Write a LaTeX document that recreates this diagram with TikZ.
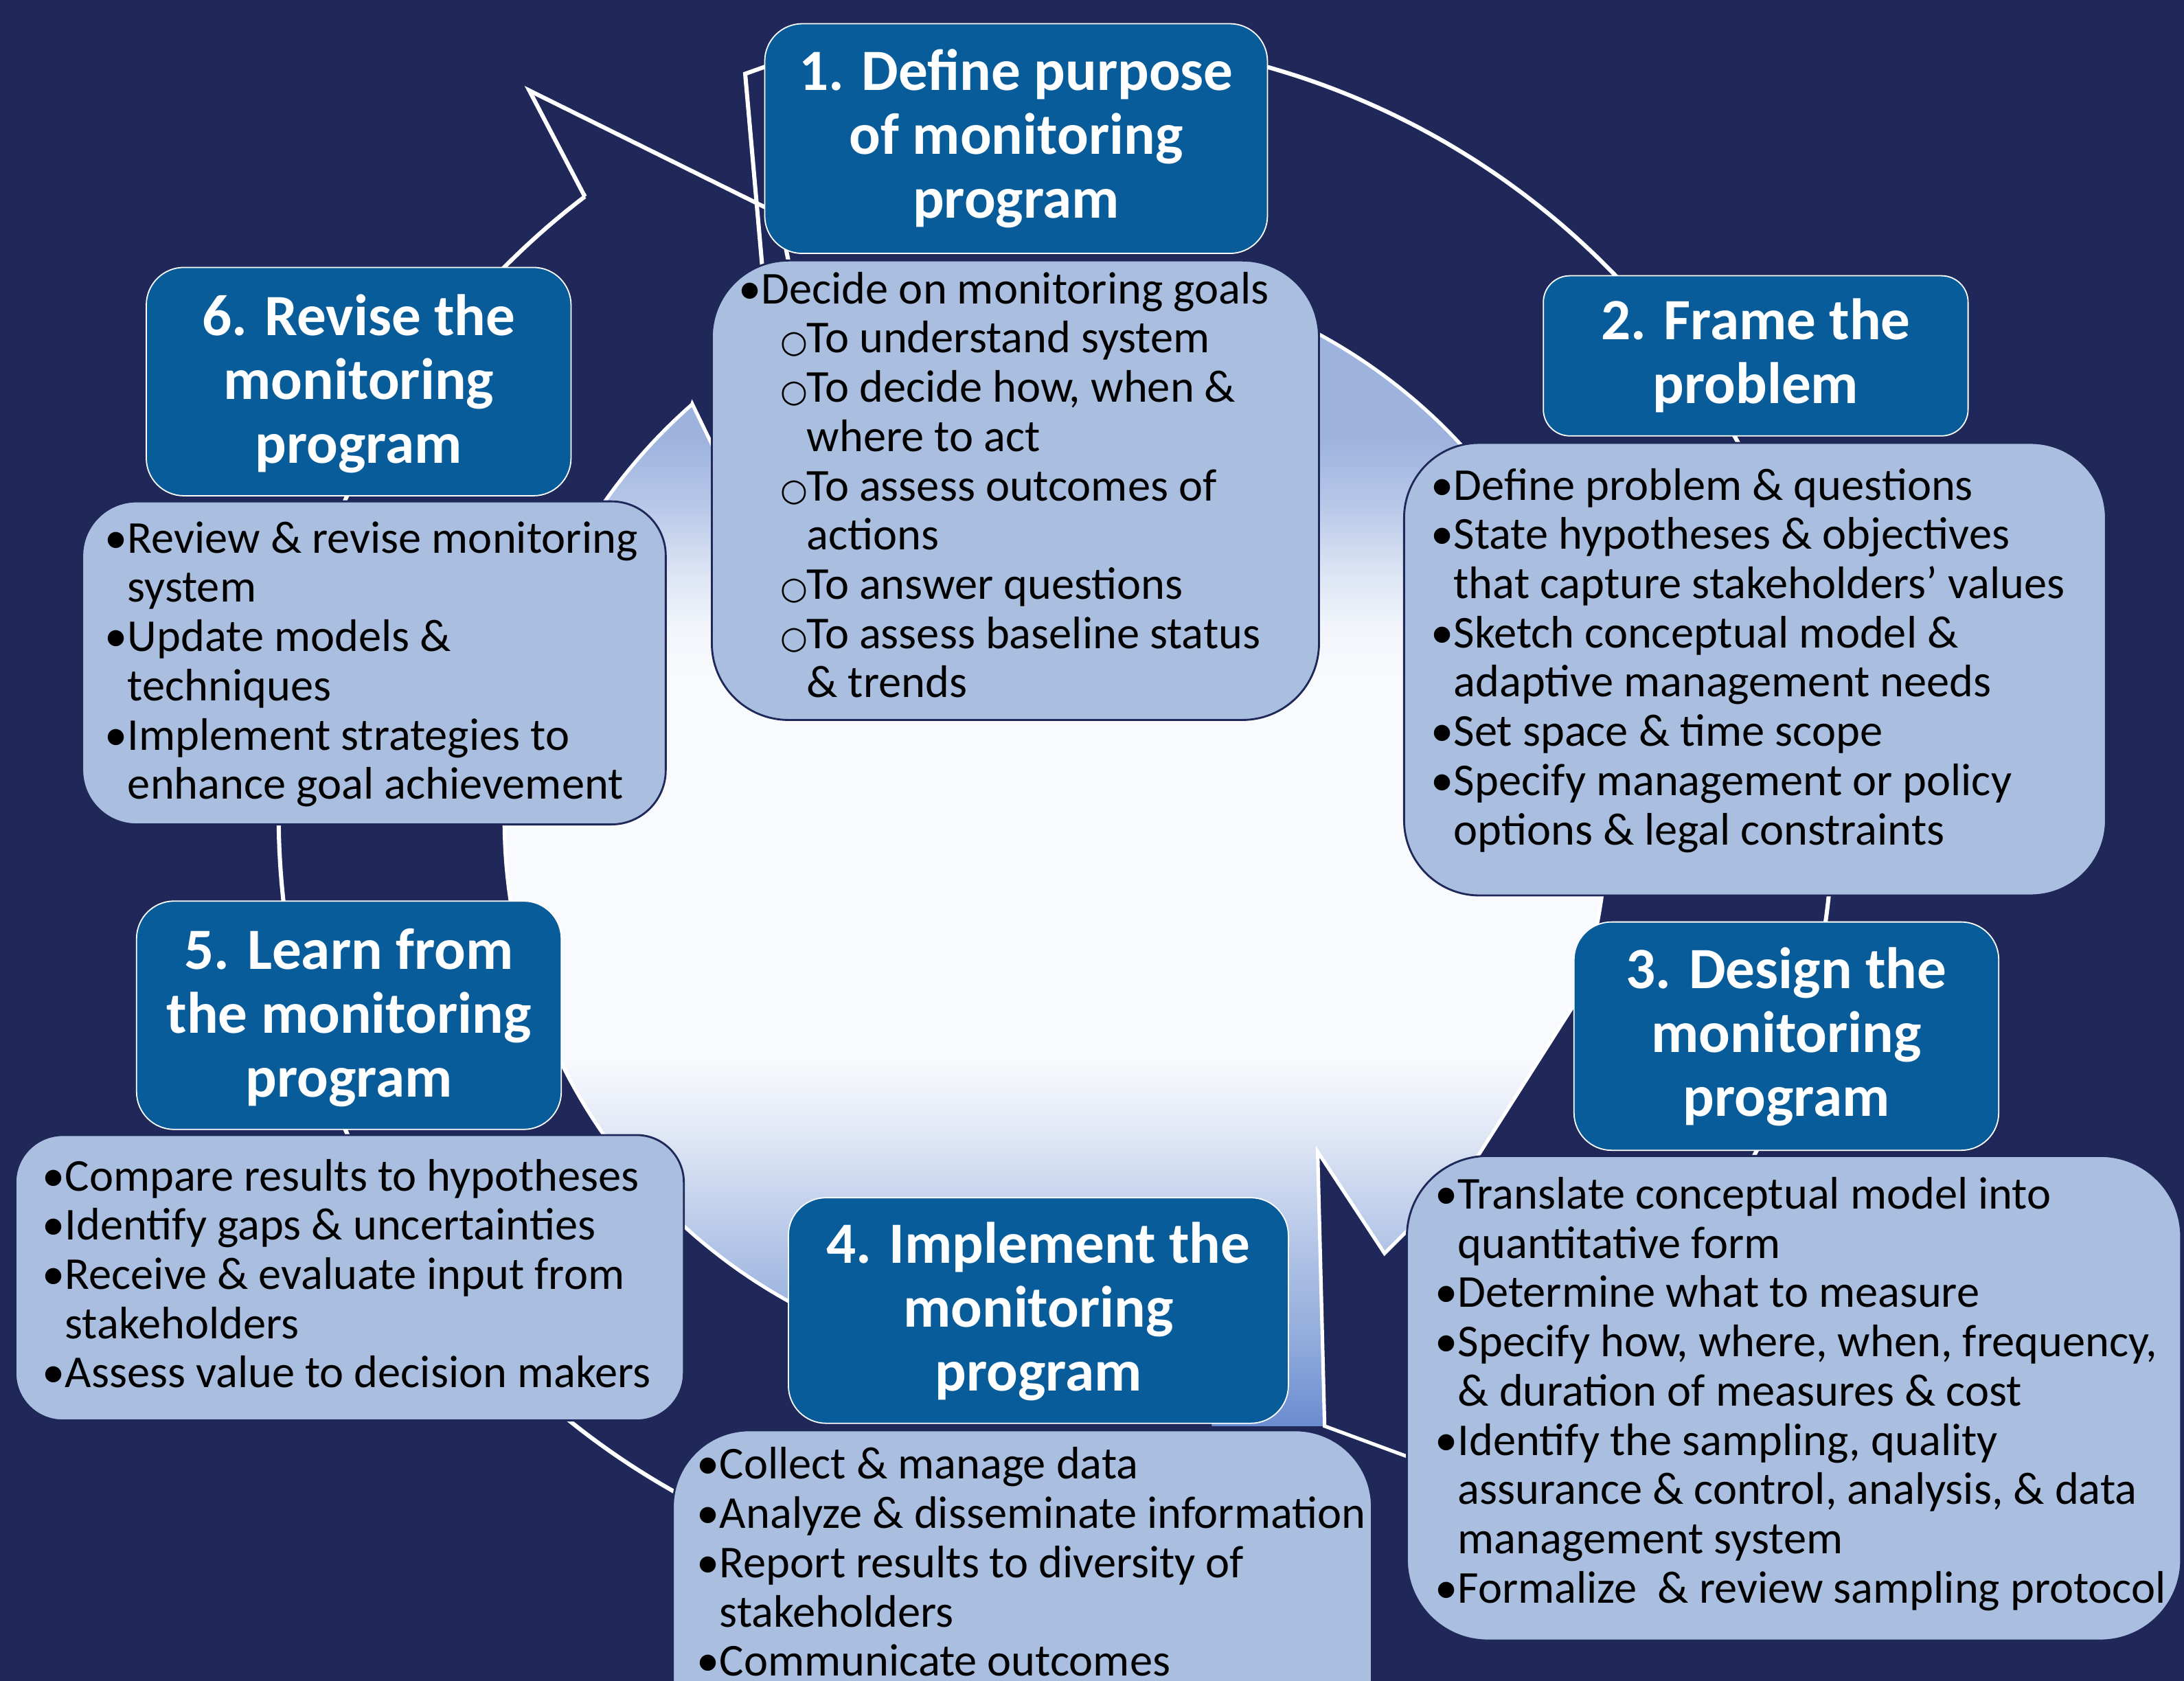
\documentclass[tikz,border=0pt]{standalone}
\usepackage{fontspec}
\setmainfont{Carlito}
\newfontfamily\dejavu{DejaVu Sans}
\usetikzlibrary{calc}
\definecolor{navy}{RGB}{31,40,89}
\definecolor{tblue}{RGB}{9,92,154}
\definecolor{cblue}{RGB}{170,191,223}
\definecolor{g1}{HTML}{9DB3DE}
\definecolor{g2}{HTML}{B5C6E7}
\definecolor{g3}{HTML}{DCE4F4}
\definecolor{g4}{HTML}{F2F5FB}
\definecolor{g5}{HTML}{F9FAFD}
\definecolor{g6}{HTML}{F9FAFD}
\definecolor{g7}{HTML}{E0E7F5}
\definecolor{g8}{HTML}{C3D1EC}
\definecolor{g9}{HTML}{A8BDE3}
\definecolor{g10}{HTML}{93ACDC}
\definecolor{g11}{HTML}{6A8BD0}
\pgfdeclareverticalshading{cgrad}{100bp}{color(0bp)=(g11); color(25bp)=(g11); color(28.96bp)=(g10); color(31.65bp)=(g9); color(34.65bp)=(g8); color(37.65bp)=(g7); color(40.95bp)=(g6); color(57.13bp)=(g5); color(59.53bp)=(g4); color(61.93bp)=(g3); color(64.93bp)=(g2); color(67.63bp)=(g1); color(100bp)=(g1)}
\newcommand{\bul}{•}
\newcommand{\bulc}{\phantom{•}}
\newcommand{\subb}{\hspace*{17.2pt}\makebox[10.6pt][l]{\fontsize{12.8}{12.8}\selectfont\dejavu ○}}
\newcommand{\subc}{\hspace*{27.8pt}}
\begin{document}
\begin{tikzpicture}[x=0.02cm,y=-0.02cm,
  wline/.style={draw=white,line width=1.45pt},
  oline/.style={draw=white,line width=1.7pt},
  tbox/.style={draw=white,line width=0.5pt,fill=tblue,rounded corners=#1,inner sep=0pt,outer sep=0pt},
  cbox/.style={draw=navy,line width=0.8pt,fill=cblue,rounded corners=#1,inner sep=0pt,outer sep=0pt},
  ttext/.style={anchor=base,inner sep=0pt,text=white,font=\fontsize{23.9}{26.08}\selectfont\bfseries},
  ctext/.style={anchor=base west,inner sep=0pt,text=black,font=\fontsize{18.65}{20.13}\selectfont}]
\useasboundingbox (0,0) rectangle (1568,1207);
\fill[navy] (0,0) rectangle (1568,1207);
\begin{scope}
\clip (0,0) rectangle (1568,1207);
% gradient disc
\coordinate (C) at (758,588);
\begin{scope}
\clip (C) circle[radius=396];
\shade[shading=cgrad] (0,192) rectangle (1568,1026);
\end{scope}
\begin{scope}
\clip (870,900) -- (946,827) -- (951,1024) -- (870,1024) -- cycle;
\shade[shading=cgrad] (0,192) rectangle (1568,1026);
\end{scope}
\fill[navy] (497,290) -- (530,358) -- (560,358) -- (560,230) -- (497,250) -- cycle;
\fill[navy] (946,827) -- (994,900) -- (1056,838) -- (1131.7,718.9) -- (1200,700) -- (1200,1040) -- (951,1040) -- cycle;
% white outlines of the gradient arrows
\draw[wline] (530,358) -- (497,290) -- plot[domain=228.75:90,samples=120] ({758+396*cos(\x)},{588+396*sin(\x)});
\draw[wline] plot[domain=-110:19.3,samples=120] ({758+396*cos(\x)},{588+396*sin(\x)}) -- (1056,838) -- (994,900) -- (946,827) -- (951,1024) -- (1008,1045) -- (1060,1064);
% outer outlined circular arrow
\draw[oline] (590,169) -- (380,65) -- (419.9,141.2) -- plot[domain=232.7:100,samples=150] ({758+558*cos(\x)},{585+558*sin(\x)});
\draw[oline] (548,200) -- (535,53) -- (549,48) -- plot[domain=-74.7:30,samples=150] ({758+558*cos(\x)},{585+558*sin(\x)});
\draw[oline] (567,192) -- (560,158);
% content boxes
\node[cbox=1.1cm, minimum width=8.72cm, minimum height=6.6cm] (c1) at (729,352) {};
\node[cbox=1.08cm, minimum width=10.08cm, minimum height=6.5cm] (c2) at (1260,480.5) {};
\node[cbox=1.16cm, minimum width=11.12cm, minimum height=6.96cm] (c3) at (1288,1004) {};
\node[cbox=1.1cm, minimum width=10.04cm, minimum height=6.06cm] (c4) at (734,1178.5) {};
\node[cbox=0.68cm, minimum width=9.6cm, minimum height=4.1cm] (c5) at (251,917.5) {};
\node[cbox=0.78cm, minimum width=8.38cm, minimum height=4.64cm] (c6) at (268.5,476) {};
% title boxes
\node[tbox=0.54cm, minimum width=7.22cm, minimum height=3.3cm] (t1) at (729.5,99.5) {};
\node[tbox=0.38cm, minimum width=6.1cm, minimum height=2.3cm] (t2) at (1260.5,255.5) {};
\node[tbox=0.54cm, minimum width=6.1cm, minimum height=3.28cm] (t3) at (1282.5,744) {};
\node[tbox=0.54cm, minimum width=7.18cm, minimum height=3.24cm] (t4) at (745.5,941) {};
\node[tbox=0.54cm, minimum width=6.1cm, minimum height=3.28cm] (t5) at (250.5,729) {};
\node[tbox=0.54cm, minimum width=6.1cm, minimum height=3.28cm] (t6) at (257.5,274) {};
% titles
\node[ttext] (t1x) at (729.5,65) {\begin{tabular}[t]{@{}c@{}}1. Define purpose\\of monitoring\\program\end{tabular}};
\node[ttext] (t2x) at (1260.5,244) {\begin{tabular}[t]{@{}c@{}}2. Frame the\\problem\end{tabular}};
\node[ttext] (t3x) at (1282.5,710) {\begin{tabular}[t]{@{}c@{}}3. Design the\\monitoring\\program\end{tabular}};
\node[ttext] (t4x) at (745.5,907) {\begin{tabular}[t]{@{}c@{}}4. Implement the\\monitoring\\program\end{tabular}};
\node[ttext] (t5x) at (250.5,696) {\begin{tabular}[t]{@{}c@{}}5. Learn from\\the monitoring\\program\end{tabular}};
\node[ttext] (t6x) at (257.5,241) {\begin{tabular}[t]{@{}c@{}}6. Revise the\\monitoring\\program\end{tabular}};
% contents
\node[ctext] (c1x) at (530,218) {\begin{tabular}[t]{@{}l@{}}
\bul Decide on monitoring goals\\
\subb To understand system\\
\subb To decide how, when \&\\
\subc where to act\\
\subb To assess outcomes of\\
\subc actions\\
\subb To answer questions\\
\subb To assess baseline status\\
\subc \& trends\end{tabular}};
\node[ctext] (c2x) at (1027,359) {\begin{tabular}[t]{@{}l@{}}
\bul Define problem \& questions\\
\bul State hypotheses \& objectives\\
\bulc that capture stakeholders’ values\\
\bul Sketch conceptual model \&\\
\bulc adaptive management needs\\
\bul Set space \& time scope\\
\bul Specify management or policy\\
\bulc options \& legal constraints\end{tabular}};
\node[ctext] (c3x) at (1030,868) {\begin{tabular}[t]{@{}l@{}}
\bul Translate conceptual model into\\
\bulc quantitative form\\
\bul Determine what to measure\\
\bul Specify how, where, when, frequency,\\
\bulc \& duration of measures \& cost\\
\bul Identify the sampling, quality\\
\bulc assurance \& control, analysis, \& data\\
\bulc management system\\
\bul Formalize\ \ \& review sampling protocol\end{tabular}};
\node[ctext] (c4x) at (500,1062) {\begin{tabular}[t]{@{}l@{}}
\bul Collect \& manage data\\
\bul Analyze \& disseminate information\\
\bul Report results to diversity of\\
\bulc stakeholders\\
\bul Communicate outcomes\end{tabular}};
\node[ctext] (c5x) at (30,855) {\begin{tabular}[t]{@{}l@{}}
\bul Compare results to hypotheses\\
\bul Identify gaps \& uncertainties\\
\bul Receive \& evaluate input from\\
\bulc stakeholders\\
\bul Assess value to decision makers\end{tabular}};
\node[ctext] (c6x) at (75,397) {\begin{tabular}[t]{@{}l@{}}
\bul Review \& revise monitoring\\
\bulc system\\
\bul Update models \&\\
\bulc techniques\\
\bul Implement strategies to\\
\bulc enhance goal achievement\end{tabular}};
\end{scope}
\end{tikzpicture}
\end{document}
